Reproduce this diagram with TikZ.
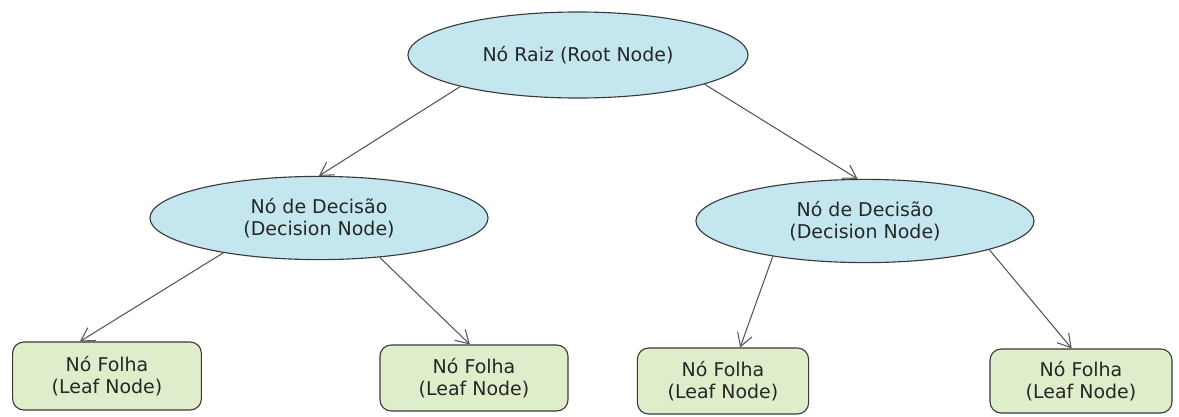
\documentclass[tikz,border=0pt]{standalone}
\usepackage{fontspec}
\setmainfont{DejaVu Sans}
\usetikzlibrary{arrows.meta, shapes.geometric}

\definecolor{nodeblue}{HTML}{C4E7EF}
\definecolor{leafgreen}{HTML}{DEEECB}
\definecolor{edgegray}{HTML}{3A3A3A}
\definecolor{linkgray}{HTML}{555555}

\begin{document}
\begin{tikzpicture}[x=0.025cm, y=-0.025cm,
  every node/.style={font=\fontsize{13.5}{16}\selectfont, text=black!85, align=center},
  decision/.style={ellipse, draw=edgegray, fill=nodeblue, line width=0.8pt,
    minimum width=8.45cm, minimum height=2.08cm, inner sep=0pt},
  leaf/.style={rectangle, rounded corners=8pt, draw=edgegray, fill=leafgreen,
    line width=0.8pt, minimum height=1.65cm, inner sep=0pt},
  link/.style={draw=linkgray, line width=0.75pt,
    -{Straight Barb[length=3.2mm, width=3.8mm]}}]
  \useasboundingbox (0,0) rectangle (1179,416);

  % root and decision nodes
  \node[decision, minimum width=8.5cm, minimum height=2.15cm] (root) at (578,55) {Nó Raiz (Root Node)};
  \node[decision] (decL) at (319,218) {Nó de Decisão\\(Decision Node)};
  \node[decision] (decR) at (865,221) {Nó de Decisão\\(Decision Node)};

  % leaves
  \node[leaf, minimum width=4.72cm, minimum height=1.7cm] (leafA) at (107,376) {Nó Folha\\(Leaf Node)};
  \node[leaf, minimum width=4.7cm] (leafB) at (474,378) {Nó Folha\\(Leaf Node)};
  \node[leaf, minimum width=4.28cm] (leafC) at (723,381) {Nó Folha\\(Leaf Node)};
  \node[leaf, minimum width=4.55cm, minimum height=1.6cm] (leafD) at (1081,381) {Nó Folha\\(Leaf Node)};

  % connectors
  \draw[link] (root.195) -- (decL.90);
  \draw[link] (root.-13) -- (decR.100);
  \draw[link] (decL.200) -- (leafA.128);
  \draw[link] (decL.-33) -- (leafB.97);
  \draw[link] (decR.201) -- (leafC.63);
  \draw[link] (decR.-13) -- (leafD.106);
\end{tikzpicture}
\end{document}
